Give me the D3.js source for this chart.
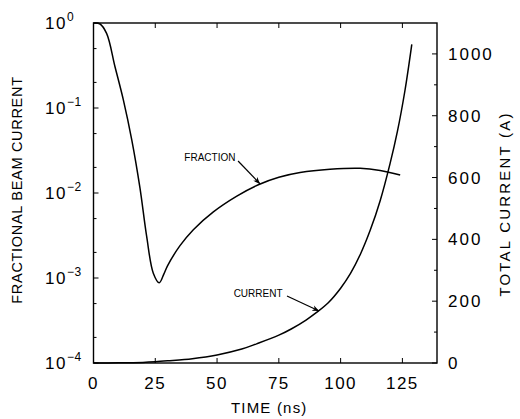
<!DOCTYPE html>
<html><head><meta charset="utf-8">
<script src="https://cdn.jsdelivr.net/npm/d3@7/dist/d3.min.js"></script>
<style>
html,body{margin:0;padding:0;background:#fff;}
svg text{font-family:"Liberation Sans",Arial,sans-serif;fill:#000;}
</style></head>
<body><svg id="c" width="520" height="419"></svg>
<script>
// ---- data ----
const fracTime  = [0, 2.5, 5.3, 8.7, 12.1, 15.5, 18.8, 21.5, 24.2, 26.6, 28.5, 30, 35, 40.4, 48.5, 58, 66.7, 75, 83.6, 95.7, 107.9, 116, 124.1];
const fracValue = [1.0, 0.98, 0.755, 0.306, 0.124, 0.042, 0.0115, 0.0031, 0.00114, 0.00088, 0.00112, 0.0014, 0.0024, 0.0037, 0.0060, 0.0092, 0.0125, 0.0153, 0.0174, 0.0190, 0.0195, 0.0184, 0.0163];
const curTime  = [0, 10, 20, 25, 30, 40, 50, 60, 66, 75, 80, 86, 90, 95, 100, 104, 108, 112, 116, 120, 123, 126, 128.8];
const curValue = [0, 0.5, 2, 4, 7, 14, 26, 45, 62, 90, 110, 139, 162, 195, 242, 290, 352, 430, 525, 645, 750, 880, 1031];
const xTicks = [0, 25, 50, 75, 100, 125];
const leftExps = [0, -1, -2, -3, -4];
const rightTicks = [0, 200, 400, 600, 800, 1000];
const xTitle = "TIME (ns)";
const leftTitle = "FRACTIONAL BEAM CURRENT";
const rightTitle = "TOTAL CURRENT (A)";
const fracLabel = {text:"FRACTION", t:47.1, v:0.0266, from:[58.5,0.0238], to:[67.4,0.0128]};
const curLabel  = {text:"CURRENT", t:66.6, v:226, from:[78.3,217], to:[91.3,168]};

// ---- layout ----
const L = 93.5, R = 437, T = 23, B = 363;
const svg = d3.select("#c");
const x = d3.scaleLinear().domain([0, 139]).range([L, R]);
const yL = d3.scaleLog().domain([1e-4, 1]).range([B, T]);
const yR = d3.scaleLinear().domain([0, 1100]).range([B, T]);

svg.append("defs").append("marker").attr("id","ah").attr("viewBox","0 0 10 10")
  .attr("refX",10).attr("refY",5).attr("markerWidth",7).attr("markerHeight",7)
  .attr("orient","auto").attr("markerUnits","userSpaceOnUse")
  .append("path").attr("d","M0,1 L10,5 L0,9 L3,5 Z").attr("fill","#000");

// frame
svg.append("rect").attr("x",L).attr("y",T).attr("width",R-L).attr("height",B-T)
  .attr("fill","none").attr("stroke","#000").attr("stroke-width",1.4);

const tk = svg.append("g").attr("stroke","#000").attr("stroke-width",1);
// x ticks (bottom and top, inward)
xTicks.forEach(v=>{
  tk.append("line").attr("x1",x(v)).attr("x2",x(v)).attr("y1",B).attr("y2",B-5);
  tk.append("line").attr("x1",x(v)).attr("x2",x(v)).attr("y1",T).attr("y2",T+5);
  svg.append("text").attr("x",x(v)).attr("y",B+26).attr("text-anchor","middle")
    .attr("font-size",17).attr("letter-spacing",1.5).text(v);
});
// left log ticks
leftExps.forEach(e=>{
  const yv = yL(Math.pow(10,e));
  tk.append("line").attr("x1",L).attr("x2",L+5).attr("y1",yv).attr("y2",yv);
  if (e < 0) {
    [2,5].forEach(m=>{
      const ym = yL(m*Math.pow(10,e));
      tk.append("line").attr("x1",L).attr("x2",L+3).attr("y1",ym).attr("y2",ym);
    });
  }
  const t = svg.append("text").attr("x",45).attr("y",yv+6).attr("font-size",17).attr("letter-spacing",1.5);
  t.append("tspan").text("10");
  t.append("tspan").attr("dy",-8).attr("font-size",12).attr("letter-spacing",0.5)
    .text(e===0 ? "0" : "\u2212"+Math.abs(e));
});
// right ticks
d3.range(0, 1100, 100).forEach(v=>{
  const yv = yR(v);
  const major = v % 200 === 0;
  tk.append("line").attr("x1",R).attr("x2",R-(major?5:3)).attr("y1",yv).attr("y2",yv);
});
rightTicks.forEach(v=>{
  svg.append("text").attr("x",448).attr("y",yR(v)+6).attr("font-size",17)
    .attr("letter-spacing",2).text(v);
});

// titles
svg.append("text").attr("x",(L+R)/2+4).attr("y",413).attr("text-anchor","middle")
  .attr("font-size",15).attr("letter-spacing",1.2).text(xTitle);
svg.append("text").attr("transform","translate(22,190) rotate(-90)").attr("text-anchor","middle")
  .attr("font-size",14.5).attr("letter-spacing",0.7).text(leftTitle);
svg.append("text").attr("transform","translate(510,204) rotate(-90)").attr("text-anchor","middle")
  .attr("font-size",15).attr("letter-spacing",2.2).text(rightTitle);

// curves
const fracLine = d3.line().x(d=>x(d[0])).y(d=>yL(d[1])).curve(d3.curveCatmullRom.alpha(0.5));
const curLine  = d3.line().x(d=>x(d[0])).y(d=>yR(d[1])).curve(d3.curveCatmullRom.alpha(0.5));
svg.append("path").datum(fracTime.map((t,i)=>[t,fracValue[i]])).attr("d",fracLine)
  .attr("fill","none").attr("stroke","#000").attr("stroke-width",1.5);
svg.append("path").datum(curTime.map((t,i)=>[t,curValue[i]])).attr("d",curLine)
  .attr("fill","none").attr("stroke","#000").attr("stroke-width",1.5);

// annotations
function annot(a, ys){
  svg.append("text").attr("x",x(a.t)).attr("y",ys(a.v)+4).attr("text-anchor","middle")
    .attr("font-size",10).text(a.text);
  svg.append("line").attr("x1",x(a.from[0])).attr("y1",ys(a.from[1]))
    .attr("x2",x(a.to[0])).attr("y2",ys(a.to[1])).attr("stroke","#000").attr("stroke-width",1.2)
    .attr("marker-end","url(#ah)");
}
annot(fracLabel, yL);
annot(curLabel, yR);
</script></body></html>
